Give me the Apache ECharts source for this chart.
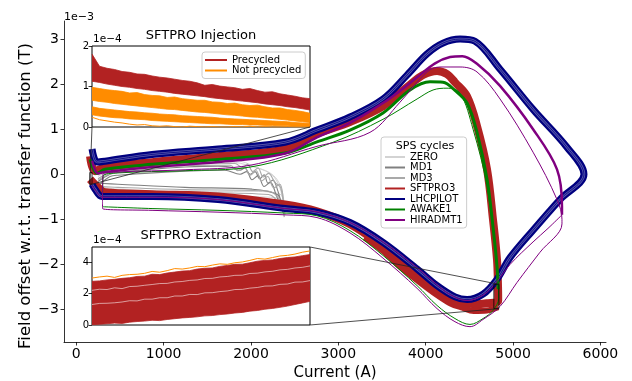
<!DOCTYPE html>
<html>
<head>
<meta charset="utf-8">
<script src="https://cdn.jsdelivr.net/npm/echarts@6/dist/echarts.min.js"></script>
<style>
  html, body { margin: 0; padding: 0; background: #fff; }
  #chart { width: 632px; height: 381px; }
</style>
</head>
<body>
<div id="chart"></div>
<script>
// ---- main plot: field offset (1e-3 T) vs current (A), one loop per cycle ----
const cycleNames = ['ZERO', 'MD1', 'MD3', 'SFTPRO3', 'LHCPILOT', 'AWAKE1', 'HIRADMT1'];
const xTicks = [0, 1000, 2000, 3000, 4000, 5000, 6000];
const yTicks = [-3, -2, -1, 0, 1, 2, 3];

const zeroLoop = [[248,-0.05],[477,0.14],[1245,0.25],[1760,0.27],[2000,0.18],[2218,0.02],[2309,-0.2],[2366,-0.56],[2389,-0.9],
  [2332,-0.44],[1989,-0.38],[1245,-0.38],[478,-0.33],[272,-0.27]];
const zeroLoopB = [[248,-0.02],[477,0.17],[1245,0.29],[1700,0.32],[1900,0.28],[2050,0.16],[2200,0.05],[2300,-0.12],[2360,-0.4],
  [2380,-0.7],[2340,-0.55],[2100,-0.5],[1245,-0.47],[478,-0.42],[272,-0.35]];
const md1LoopA = [[248,-0.16],[387,0.0],[477,0.04],[844,0.11],[1245,0.16],[1622,0.18],[1760,0.16],[1874,0.09],[1930,0.14],[1990,0.0],
  [2046,0.06],[2100,-0.1],[2150,-0.01],[2195,-0.2],[2250,-0.13],[2309,-0.38],[2355,-0.71],
  [2300,-0.45],[2011,-0.33],[1245,-0.29],[477,-0.22],[272,-0.2]];
const md1LoopB = [[248,-0.25],[387,-0.05],[477,-0.02],[1245,0.07],[1700,0.09],[1874,0.0],[1950,0.06],[2011,-0.12],[2080,-0.03],
  [2150,-0.27],[2220,-0.18],[2290,-0.47],[2366,-0.85],
  [2330,-0.6],[2194,-0.6],[1245,-0.5],[477,-0.44],[294,-0.4]];
const md3Loop = [[248,-0.1],[477,0.11],[1245,0.22],[1817,0.24],[1900,0.15],[1960,0.22],[2020,0.06],[2080,0.14],[2140,-0.06],
  [2200,0.02],[2275,-0.18],[2340,-0.3],[2378,-0.82],
  [2366,-0.67],[2194,-0.37],[1245,-0.34],[477,-0.29],[272,-0.27]];
const md3LoopB = [[248,-0.13],[477,0.07],[1245,0.19],[1760,0.2],[1850,0.08],[1920,0.17],[1990,-0.02],[2060,0.08],[2120,-0.15],
  [2190,-0.05],[2260,-0.3],[2330,-0.22],[2372,-0.6],[2380,-0.95],
  [2350,-0.75],[2200,-0.45],[1245,-0.4],[477,-0.36],[272,-0.31]];
const sftproLoop = [[157,0.40],[214,0.07],[329,0.16],[867,0.27],[1622,0.40],[2389,0.56],[2755,0.9],[3133,1.16],[3511,1.51],
  [3786,1.93],[3969,2.2],[4130,2.29],[4244,2.22],[4335,2.04],[4473,1.73],[4587,1.07],[4702,0.11],[4770,-1.0],[4816,-1.89],
  [4828,-2.5],[4830,-2.8],
  [4700,-2.86],[4560,-2.88],[4420,-2.83],[4279,-2.72],[4130,-2.55],[3901,-2.22],[3706,-1.92],[3511,-1.6],[3133,-1.11],
  [2755,-0.82],[2389,-0.67],[1622,-0.49],[867,-0.44],[329,-0.4],[248,-0.29],[157,-0.11]];
const sftproLowEdge = [[4830,-2.95],[4700,-3.02],[4550,-3.03],[4420,-2.96],[4279,-2.86],[4130,-2.68],[3901,-2.35],
  [3706,-2.05],[3511,-1.7],[3300,-1.4]];
const lhcpilotLoop = [[180,0.56],[237,0.27],[329,0.29],[867,0.44],[1622,0.56],[2389,0.71],[2755,0.98],[3133,1.27],[3511,1.67],
  [3786,2.2],[4015,2.67],[4198,2.91],[4393,3.0],[4564,2.95],[4851,2.33],[5229,1.44],[5617,0.6],[5812,0.0],
  [5537,-0.56],[5229,-1.24],[4965,-1.85],[4816,-2.33],[4656,-2.66],[4473,-2.78],[4335,-2.72],[4130,-2.47],[3901,-2.1],
  [3511,-1.51],[3133,-1.07],[2755,-0.84],[2389,-0.76],[1622,-0.56],[867,-0.49],[294,-0.49],[214,-0.33],[180,-0.22]];
const awakeUp = [[158,0.33],[237,0.02],[329,0.11],[867,0.22],[1622,0.33],[2389,0.47],[2755,0.72],[3133,0.98],[3511,1.36],
  [3820,1.87],[4049,2.05],[4198,2.04],[4335,1.86],[4473,1.58],[4587,0.93],[4702,-0.11],[4770,-1.16],[4816,-2.04],[4830,-2.55]];
const awakeThin = [[300,-0.55],[306,-0.05],[477,0.03],[1245,0.08],[1989,0.16],[2939,0.71],[3511,1.22],[3901,1.67],[4084,1.87],
  [4244,1.91],[4393,1.8],[4542,1.0],[4702,-0.27],[4816,-2.04],[4835,-2.75],
  [4770,-3.02],[4656,-3.2],[4507,-3.33],[4335,-3.2],[4130,-2.91],[3901,-2.47],[3511,-1.8],[3133,-1.25],[2755,-0.92],
  [2389,-0.86],[1622,-0.8],[867,-0.76],[306,-0.72]];
const hiradThickUp = [[180,0.3],[248,0.02],[329,0.05],[867,0.16],[1622,0.27],[2389,0.46],[2755,0.82],[3133,1.14],[3511,1.58],
  [3706,1.85],[3901,2.15],[4107,2.46],[4279,2.6],[4420,2.62],[4587,2.45],[4851,1.96],[5229,1.0],[5503,0.11],[5560,-0.71],[5560,-0.9]];
const hiradThickDown = [[5560,-0.9],[5400,-1.2],[5229,-1.5],[4965,-2.0],[4816,-2.38],[4656,-2.68],[4473,-2.8],[4279,-2.67],
  [4130,-2.45],[3901,-2.07],[3511,-1.5],[3133,-1.07],[2755,-0.83],[2389,-0.76],[1622,-0.56],[867,-0.51],[306,-0.51],[214,-0.35],[180,-0.25]];
const hiradThin = [[300,-0.6],[306,0.0],[477,0.05],[1245,0.1],[1989,0.2],[2755,0.62],[3362,0.93],[3706,1.6],[4015,2.27],
  [4164,2.38],[4393,2.38],[4587,2.27],[4851,1.67],[5229,0.49],[5503,-0.56],[5560,-1.0],[5560,-1.1],
  [5308,-1.73],[5045,-2.4],[4851,-2.93],[4656,-3.22],[4507,-3.38],[4335,-3.27],[4130,-2.98],[3901,-2.53],[3511,-1.86],
  [3133,-1.3],[2755,-0.96],[2389,-0.9],[1622,-0.84],[867,-0.8],[300,-0.76],[300,-0.6]];

// zoomed regions shown in the insets (current A, field 1e-3 T)
const injBoxI = [155, 180];
const injBoxV = [-0.22, 0.04];
const extBoxI = [4780, 4838];
const extBoxV = [-2.98, -2.44];

// ---- inset 1: SFTPRO injection (1e-4) ----
const injTicks = [0, 1, 2];
const precTop = [1.80,1.50,1.45,1.42,1.37,1.35,1.31,1.30,1.26,1.23,1.21,1.18,1.15,1.13,1.09,1.03,1.05,1.01,0.99,0.97,0.93,0.95,0.90,0.86,0.87,0.82,0.79,0.76,0.72,0.70];
const precBot = [1.13,1.10,1.06,1.03,1.00,0.98,0.95,0.93,0.90,0.88,0.86,0.83,0.81,0.79,0.77,0.75,0.72,0.70,0.68,0.66,0.64,0.62,0.60,0.57,0.55,0.53,0.50,0.48,0.45,0.42];
const npTop = [0.98,0.95,0.92,0.90,0.88,0.84,0.85,0.80,0.78,0.77,0.73,0.74,0.70,0.68,0.66,0.66,0.62,0.61,0.58,0.59,0.55,0.53,0.54,0.50,0.47,0.47,0.43,0.41,0.38,0.34];
const npBot = [0.66,0.63,0.61,0.58,0.56,0.54,0.52,0.50,0.48,0.46,0.44,0.43,0.41,0.39,0.37,0.36,0.34,0.32,0.30,0.29,0.27,0.25,0.24,0.22,0.21,0.19,0.17,0.15,0.13,0.11];
const np2Top = [0.50,0.46,0.44,0.42,0.40,0.38,0.37,0.35,0.34,0.32,0.31,0.30,0.28,0.27,0.26,0.25,0.24,0.22,0.21,0.20,0.19,0.18,0.17,0.16,0.15,0.14,0.13,0.11,0.10,0.09];
const np2Bot = [0.30,0.27,0.25,0.23,0.22,0.20,0.19,0.18,0.16,0.15,0.14,0.13,0.12,0.11,0.10,0.09,0.08,0.08,0.07,0.06,0.06,0.05,0.05,0.04,0.04,0.03,0.03,0.02,0.02,0.02];
const npLow = [0.24,0.18,0.15,0.12,0.10,0.07,0.05,0.06,0.03,0.02,0.03,0.01,0.0,0.02,0.01,0.0,0.01,0.0,0.0,0.01,0.0,0.02,0.0,0.01,0.0,0.0,0.01,0.0,0.0,0.0];

// ---- inset 2: SFTPRO extraction (1e-4) ----
const extTicks = [0, 2, 4];
const extTop = [2.77,2.80,2.86,2.90,2.96,3.00,3.08,3.10,3.22,3.20,3.30,3.36,3.42,3.45,3.55,3.60,3.62,3.72,3.78,3.85,3.86,3.95,4.05,4.10,4.13,4.22,4.28,4.32,4.40,4.47];
const extBot = [0.02,0.05,0.08,0.12,0.10,0.18,0.22,0.25,0.30,0.28,0.35,0.40,0.45,0.48,0.52,0.58,0.60,0.66,0.70,0.76,0.80,0.88,0.92,1.00,1.05,1.12,1.20,1.30,1.40,1.50];
const extOrange = [2.98,3.05,3.10,3.02,3.15,3.20,3.22,3.28,3.40,3.35,3.45,3.58,3.55,3.62,3.72,3.70,3.80,3.88,3.85,3.95,4.00,4.10,4.22,4.18,4.28,4.38,4.42,4.50,4.62,4.70];
const extGapA = [2.20,2.27,2.25,2.36,2.31,2.44,2.46,2.52,2.57,2.63,2.64,2.73,2.76,2.83,2.86,2.95,2.96,3.05,3.08,3.15,3.16,3.27,3.29,3.37,3.41,3.50,3.53,3.62,3.66,3.75];
const extGapB = [1.30,1.37,1.38,1.41,1.46,1.54,1.53,1.64,1.64,1.73,1.73,1.84,1.84,1.94,1.93,2.04,2.05,2.12,2.16,2.25,2.26,2.34,2.38,2.47,2.48,2.58,2.60,2.72,2.73,2.82];

const FONT = 'DejaVu Sans';
const RED = '#b22222', NAVY = '#000080', GREEN = '#008000', PURPLE = '#800080', ORANGE = '#ff8c00';
const minus = v => (v < 0 ? '\u2212' + Math.abs(v) : String(v));

var chart = echarts.init(document.getElementById('chart'));

function loop(name, data, color, width, z, opacity) {
  return {
    type: 'line', name: name, data: data, xAxisIndex: 0, yAxisIndex: 0,
    symbol: 'none', smooth: 0.35, silent: true, z: z,
    lineStyle: { color: color, width: width, opacity: opacity == null ? 1 : opacity },
    itemStyle: { color: color }
  };
}

function band(axis, stackId, name, bottom, top, color) {
  return [
    { type: 'line', name: '_' + stackId, xAxisIndex: axis, yAxisIndex: axis, data: bottom, stack: stackId,
      symbol: 'none', silent: true, z: 11, lineStyle: { color: color, width: 0.8 } },
    { type: 'line', name: name, xAxisIndex: axis, yAxisIndex: axis, stack: stackId,
      data: top.map((t, i) => +(t - bottom[i]).toFixed(3)),
      symbol: 'none', silent: true, z: 11, itemStyle: { color: color },
      lineStyle: { color: color, width: 0.8 }, areaStyle: { color: color, opacity: 1 } }
  ];
}

function insetLine(axis, name, data, color, width, opacity) {
  return { type: 'line', name: name, xAxisIndex: axis, yAxisIndex: axis, data: data, symbol: 'none',
    silent: true, z: 12, itemStyle: { color: color },
    lineStyle: { color: color, width: width, opacity: opacity == null ? 1 : opacity } };
}

const idx = precTop.map((_, i) => i);
const idx2 = extTop.map((_, i) => i);

const axisCol = { color: '#000', width: 0.8 };
function insetY(grid, max, ticks) {
  return { type: 'value', gridIndex: grid, min: 0, max: max, z: 12,
    axisLine: { show: false },
    axisTick: { show: true, length: 3.5, lineStyle: axisCol, customValues: ticks },
    axisLabel: { fontSize: 10, color: '#000', fontFamily: FONT, margin: 3, customValues: ticks },
    splitLine: { show: false } };
}
function insetX(grid, data) {
  return { type: 'category', gridIndex: grid, data: data, boundaryGap: false, z: 12,
    axisLine: { show: false }, axisTick: { show: false }, axisLabel: { show: false }, splitLine: { show: false } };
}

const option = {
  animation: false,
  backgroundColor: '#fff',
  textStyle: { fontFamily: FONT },
  grid: [
    { left: 64, right: 26, top: 21, bottom: 39, show: false, outerBoundsMode: 'none', containLabel: false },
    { left: 92, width: 218, top: 46, height: 81, show: true, backgroundColor: '#fff', borderColor: '#000', borderWidth: 1,
      z: 10, outerBoundsMode: 'none', containLabel: false },
    { left: 92, width: 218, top: 247, height: 78, show: true, backgroundColor: '#fff', borderColor: '#000', borderWidth: 1,
      z: 10, outerBoundsMode: 'none', containLabel: false }
  ],
  xAxis: [
    { type: 'value', gridIndex: 0, min: -141, max: 6064,
      name: 'Current (A)', nameLocation: 'middle', nameGap: 23,
      nameTextStyle: { fontSize: 15, color: '#000', fontFamily: FONT },
      axisLine: { show: true, onZero: false, lineStyle: axisCol },
      axisTick: { show: true, length: 3.5, lineStyle: axisCol, customValues: xTicks },
      axisLabel: { fontSize: 14, color: '#000', fontFamily: FONT, margin: 5, customValues: xTicks, formatter: v => String(v) },
      splitLine: { show: false } },
    insetX(1, idx),
    insetX(2, idx2)
  ],
  yAxis: [
    { type: 'value', gridIndex: 0, min: -3.72, max: 3.4,
      axisLine: { show: true, onZero: false, lineStyle: axisCol },
      axisTick: { show: true, length: 3.5, lineStyle: axisCol, customValues: yTicks },
      axisLabel: { fontSize: 14, color: '#000', fontFamily: FONT, margin: 5, customValues: yTicks, formatter: minus },
      splitLine: { show: false } },
    insetY(1, 2, injTicks),
    insetY(2, 4.95, extTicks)
  ],
  legend: [
    { data: cycleNames, left: 381, top: 137, orient: 'vertical', icon: 'rect', itemWidth: 20, itemHeight: 2,
      itemGap: 0.5, padding: [15, 4, 3, 4], backgroundColor: 'rgba(255,255,255,0.8)', borderColor: '#cccccc',
      borderWidth: 1, borderRadius: 3, selectedMode: false, z: 15,
      textStyle: { fontSize: 10, fontFamily: FONT, color: '#000', lineHeight: 10 } },
    { data: ['Precycled', 'Not precycled'], left: 202, top: 52, orient: 'vertical', icon: 'rect', itemWidth: 22,
      itemHeight: 2, itemGap: 0.5, padding: [3, 4, 3, 3], backgroundColor: 'rgba(255,255,255,0.8)',
      borderColor: '#cccccc', borderWidth: 1, borderRadius: 3, selectedMode: false, z: 15,
      textStyle: { fontSize: 10, fontFamily: FONT, color: '#000', lineHeight: 10 } }
  ],
  series: [
    loop('ZERO', zeroLoop, '#d3d3d3', 1, 2),
    loop('ZERO', zeroLoopB, '#d3d3d3', 1, 2),
    loop('MD1', md1LoopA, '#808080', 1.1, 2),
    loop('MD1', md1LoopB, '#808080', 1.1, 2),
    loop('MD3', md3Loop, '#a9a9a9', 1.1, 2),
    loop('MD3', md3LoopB, '#a9a9a9', 1.1, 2),
    loop('SFTPRO3', sftproLoop, RED, 8, 3),
    loop('SFTPRO3', sftproLowEdge, RED, 6, 3),
    loop('LHCPILOT', lhcpilotLoop, NAVY, 7, 4),
    loop('_lhcGap', lhcpilotLoop, '#ffffff', 2.5, 4, 0.35),
    loop('_lhcCore', lhcpilotLoop, NAVY, 0.8, 4),
    loop('AWAKE1', awakeUp, GREEN, 3, 5),
    loop('AWAKE1', awakeThin, GREEN, 1, 5),
    loop('HIRADMT1', hiradThickUp, PURPLE, 2.5, 6),
    loop('HIRADMT1', hiradThickDown, PURPLE, 1, 6),
    loop('HIRADMT1', hiradThin, PURPLE, 1, 6)
  ]
    .concat(band(1, 'prec', 'Precycled', precBot, precTop, RED))
    .concat(band(1, 'np', 'Not precycled', npBot, npTop, ORANGE))
    .concat(band(1, 'np2', '_np2', np2Bot, np2Top, ORANGE))
    .concat([insetLine(1, '_npLow', npLow, ORANGE, 1)])
    .concat(band(2, 'ext', '_ext', extBot, extTop, RED))
    .concat([
      insetLine(2, '_gapA', extGapA, '#ffffff', 0.8, 0.7),
      insetLine(2, '_gapB', extGapB, '#ffffff', 0.8, 0.7),
      insetLine(2, '_extOrange', extOrange, ORANGE, 1)
    ])
};

chart.setOption(option);

// zoom boxes and connector lines, placed through the axes' own scales
const mainAx = { xAxisIndex: 0, yAxisIndex: 0 };
const ins1 = { xAxisIndex: 1, yAxisIndex: 1 };
const ins2 = { xAxisIndex: 2, yAxisIndex: 2 };
function boxShape(bi, bv) {
  const a = chart.convertToPixel(mainAx, [bi[0], bv[1]]);
  const b = chart.convertToPixel(mainAx, [bi[1], bv[0]]);
  return { x: a[0], y: a[1], width: b[0] - a[0], height: b[1] - a[1] };
}
function seg(p, q) {
  return { type: 'line', z: 20, silent: true, shape: { x1: p[0], y1: p[1], x2: q[0], y2: q[1] },
    style: { stroke: '#222', lineWidth: 0.8 } };
}
const n1 = precTop.length - 1, n2 = extTop.length - 1;
const ins1LL = chart.convertToPixel(ins1, [0, 0]);
const ins1LR = chart.convertToPixel(ins1, [n1, 0]);
const ins2UR = chart.convertToPixel(ins2, [n2, 4.95]);
const ins2LR = chart.convertToPixel(ins2, [n2, 0]);

function txt(x, y, text, size, align, rot) {
  return { type: 'text', x: x, y: y, z: 20, silent: true, rotation: rot || 0,
    style: { text: text, fontSize: size, fontFamily: FONT, fill: '#000', align: align || 'left', verticalAlign: 'middle' } };
}

chart.setOption({
  graphic: { elements: [
    { type: 'rect', z: 20, silent: true, shape: boxShape(injBoxI, injBoxV), style: { fill: 'none', stroke: '#000', lineWidth: 0.8 } },
    { type: 'rect', z: 20, silent: true, shape: boxShape(extBoxI, extBoxV), style: { fill: 'none', stroke: '#000', lineWidth: 0.8 } },
    seg(ins1LL, chart.convertToPixel(mainAx, [injBoxI[0], injBoxV[0]])),
    seg(ins1LR, chart.convertToPixel(mainAx, [injBoxI[1], injBoxV[0]])),
    seg(ins2UR, chart.convertToPixel(mainAx, [extBoxI[1], extBoxV[1]])),
    seg(ins2LR, chart.convertToPixel(mainAx, [extBoxI[1], extBoxV[0]])),
    txt(26, 196, 'Field offset w.r.t. transfer function (T)', 16.5, 'center', Math.PI / 2),
    txt(64, 17, '1e\u22123', 11),
    txt(93, 39, '1e\u22124', 10.5),
    txt(93, 240, '1e\u22124', 10.5),
    txt(201, 36, 'SFTPRO Injection', 13, 'center'),
    txt(201, 236, 'SFTPRO Extraction', 13, 'center'),
    txt(425, 146, 'SPS cycles', 11, 'center')
  ] }
});
</script>
</body>
</html>
